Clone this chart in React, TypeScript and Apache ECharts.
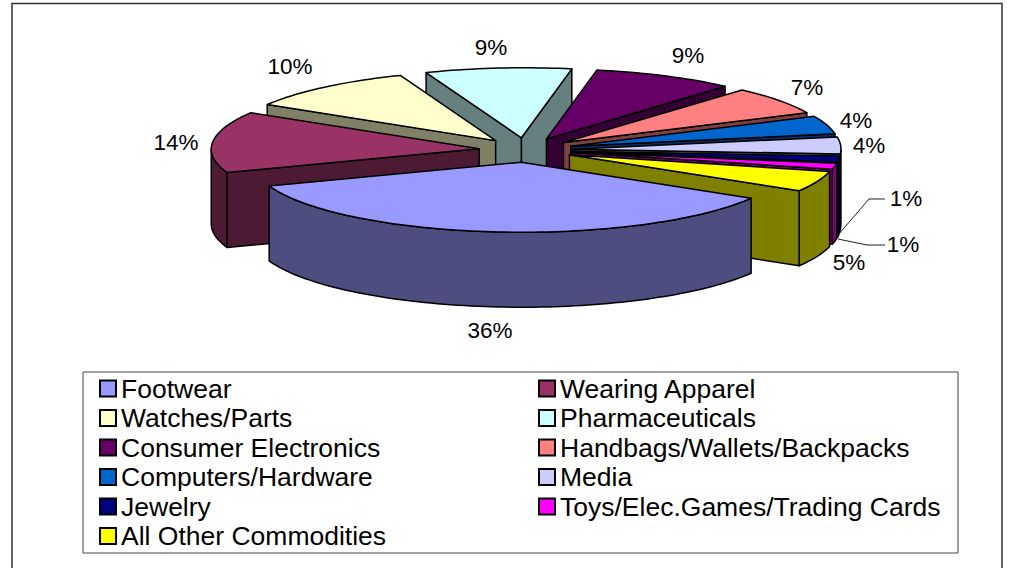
import React, { useEffect, useRef } from "react";
import * as echarts from "echarts";

const categories = ["Footwear","Wearing Apparel","Watches/Parts","Pharmaceuticals","Consumer Electronics","Handbags/Wallets/Backpacks","Computers/Hardware","Media","Jewelry","Toys/Elec.Games/Trading Cards","All Other Commodities"];
const shares = [35.9, 14.1, 10.45, 8.8, 8.6, 6.5, 4.2, 3.9, 1.4, 1.4, 4.75];
const topColors = ["#9999FF","#993366","#FFFFCC","#CCFFFF","#660066","#FF8080","#0066CC","#CCCCFF","#000080","#FF00FF","#FFFF00"];
const sideColors = ["#4D4D80","#4D1A33","#808066","#668080","#330033","#804040","#003366","#666680","#000040","#800080","#808000"];
const labelCenters: number[][] = [[490,330],[176,142],[290,66],[491,47],[688,55],[807,87],[856,120],[869,145],[906,198],[903,244],[849,262]];

const CX = 526, CY = 150, RX = 268, RY = 70, DEPTH = 75, EXPLODE = 47, START_DEG = 31, REAR_SHIFT = 2.5;
const rad = (d: number) => (d * Math.PI) / 180;
const total = shares.reduce((a, b) => a + b, 0);

function sliceAngles(i: number) {
  const before = shares.slice(0, i).reduce((a, b) => a + b, 0);
  const a0 = START_DEG + (before / total) * 360;
  const a1 = a0 + (shares[i] / total) * 360;
  return [a0, a1];
}

function renderSlice(params: any, api: any) {
  const i = params.seriesIndex;
  const [a0, a1] = sliceAngles(i);
  const mid = (a0 + a1) / 2;
  const ax = CX + EXPLODE * Math.cos(rad(mid));
  const ay = CY + EXPLODE * (RY / RX) * Math.sin(rad(mid));
  const rim = (t: number, dz = 0) => {
    const s = Math.sin(rad(t));
    return [ax + RX * Math.cos(rad(t)) + REAR_SHIFT * Math.max(0, -s), ay + RY * s + dz];
  };
  const arc = (from: number, to: number, dz = 0) => {
    const out: number[][] = [];
    const n = Math.max(2, Math.ceil(Math.abs(to - from) / 1.5));
    for (let k = 0; k <= n; k++) out.push(rim(from + ((to - from) * k) / n, dz));
    return out;
  };
  const line = { stroke: "#000", lineWidth: 1.5, lineJoin: "round" };
  const children: any[] = [];
  const poly = (points: number[][], fill: string) =>
    children.push({ type: "polygon", shape: { points }, style: { fill, ...line } });
  // visible part of the outer wall (front half of the ellipse)
  const ranges = [[0, 180], [360, 540]];
  for (const [lo, hi] of ranges) {
    const f = Math.max(a0, lo), t = Math.min(a1, hi);
    if (t > f) poly([...arc(f, t), ...arc(t, f, DEPTH)], sideColors[i]);
  }
  // radial faces that look toward the viewer
  if (Math.cos(rad(a0)) < 0) {
    poly([[ax, ay], rim(a0), rim(a0, DEPTH), [ax, ay + DEPTH]], sideColors[i]);
  }
  if (Math.cos(rad(a1)) > 0) {
    poly([[ax, ay], rim(a1), rim(a1, DEPTH), [ax, ay + DEPTH]], sideColors[i]);
  }
  poly([[ax, ay], ...arc(a0, a1)], topColors[i]);
  return { type: "group", children };
}

// painter's order: slices further from the viewer first
function depthOrder(i: number) {
  const [a0, a1] = sliceAngles(i);
  return Math.sin(rad((a0 + a1) / 2));
}
const ranks = categories.map((_, i) => i).sort((p, q) => depthOrder(p) - depthOrder(q));

const legendItem = (i: number) => ({
  name: categories[i],
  icon: "rect",
  itemStyle: { color: topColors[i], borderColor: "#000", borderWidth: 2 },
});
const legendBase = {
  orient: "vertical",
  top: 375,
  itemWidth: 16,
  itemHeight: 16,
  itemGap: 2.5,
  padding: 0,
  selectedMode: false,
  textStyle: { fontFamily: "Liberation Sans", fontSize: 26.5, color: "#000" },
};

export default function App() {
  const ref = useRef<HTMLDivElement>(null);
  useEffect(() => {
    const chart = echarts.init(ref.current!, null, { renderer: "svg" });
    chart.setOption({
      animation: false,
      backgroundColor: "#fff",
      legend: [
        { ...legendBase, left: 99, data: categories.map((_, i) => i).filter((i) => i % 2 === 0).map(legendItem) },
        { ...legendBase, left: 538, data: categories.map((_, i) => i).filter((i) => i % 2 === 1).map(legendItem) },
      ],
      series: categories.map((name, i) => ({
        type: "custom",
        name,
        coordinateSystem: "none",
        z: 2 + ranks.indexOf(i),
        silent: true,
        data: [shares[i]],
        renderItem: renderSlice,
      })),
      graphic: [
        { type: "rect", z: 0, shape: { x: 12, y: 3.5, width: 990, height: 600 }, style: { fill: "#fff", stroke: "#333", lineWidth: 1.5 } },
        { type: "rect", z: 0, shape: { x: 83, y: 372, width: 875, height: 181 }, style: { fill: "#fff", stroke: "#444", lineWidth: 1 } },
        { type: "polyline", z: 30, shape: { points: [[838,235],[869,199],[885,199]] }, style: { fill: "none", stroke: "#222", lineWidth: 1 } },
        { type: "polyline", z: 30, shape: { points: [[838,239],[867,245],[885,245]] }, style: { fill: "none", stroke: "#222", lineWidth: 1 } },
        ...shares.map((v, i) => ({
          type: "text",
          z: 30,
          x: labelCenters[i][0],
          y: labelCenters[i][1],
          style: { text: `${Math.round(v)}%`, font: "22.5px 'Liberation Sans'", fill: "#000", align: "center", verticalAlign: "middle" },
        })),
      ],
    });
    return () => chart.dispose();
  }, []);
  return <div ref={ref} style={{ position: "fixed", left: 0, top: 0, width: 1014, height: 568 }} />;
}
